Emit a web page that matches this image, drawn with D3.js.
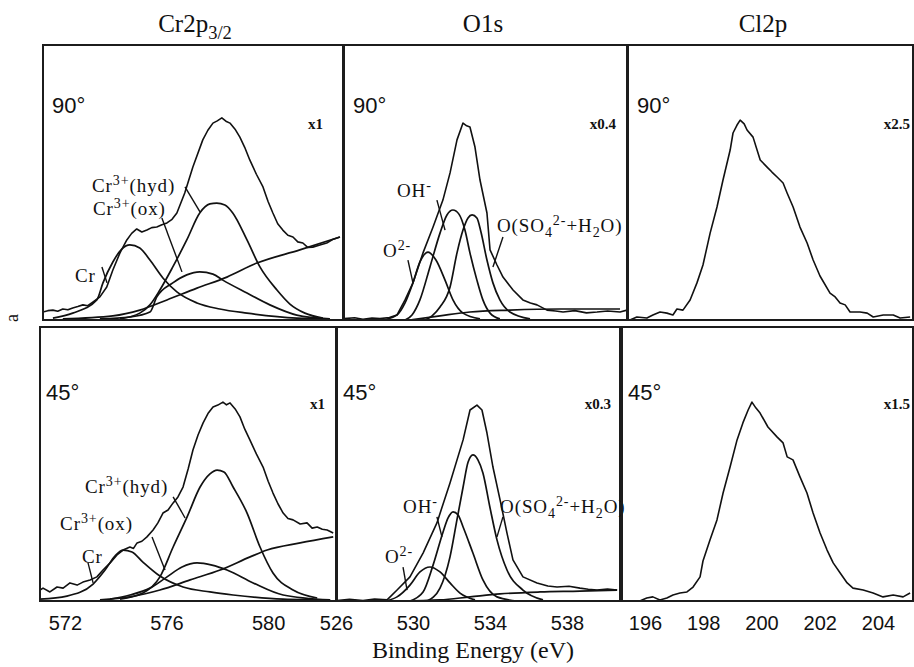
<!DOCTYPE html>
<html>
<head>
<meta charset="utf-8">
<script src="https://cdn.jsdelivr.net/npm/d3@7"></script>
<style>
  body { margin: 0; background: #fff; }
  svg { display: block; }
  .frame { fill: none; stroke: #1c1c1c; stroke-width: 2; }
  .trace { fill: none; stroke: #111; stroke-width: 1.6; stroke-linejoin: round; }
  .fit { fill: none; stroke: #111; stroke-width: 1.7; }
  .lead { stroke: #111; stroke-width: 1.4; fill: none; }
  .serif { font-family: "Liberation Serif", "DejaVu Serif", serif; fill: #111; }
  .sans { font-family: "Liberation Sans", Arial, sans-serif; fill: #111; }
</style>
</head>
<body>
<svg id="chart" width="914" height="667"></svg>
<script>

// ----- Data (binding energy eV, intensity a.u. 0-100) ---------------------

var CR_TICKS = [572, 576, 580];
var O_TICKS = [526, 530, 534, 538];
var CL_TICKS = [196, 198, 200, 202, 204];

var ANGLES = ['90°', '45°'];
var FACTORS_90 = ['x1', 'x0.4', 'x2.5'];
var FACTORS_45 = ['x1', 'x0.3', 'x1.5'];

// Cr2p3/2, 90 deg
var CR90_ENV = [[571.13,2.9],[571.33,3.4],[571.53,3.6],[571.72,3.2],[571.92,4.0],[572.12,3.7],[572.31,4.4],
  [572.51,4.9],[572.71,5.5],[572.90,5.2],[573.10,6.5],[573.38,8.4],[573.65,12.0],[573.89,18.2],[574.17,24.4],
  [574.44,29.1],[574.63,31.5],[574.83,33.1],[575.03,32.0],[575.23,32.7],[575.42,33.6],[575.62,33.8],
  [575.82,34.6],[576.02,35.3],[576.22,36.6],[576.41,38.9],[576.72,46.2],[577.04,55.6],[577.43,65.5],
  [577.63,69.0],[577.83,71.6],[578.00,72.4],[578.18,73.5],[578.34,72.3],[578.50,71.6],[578.70,69.4],
  [578.89,66.5],[579.08,62.8],[579.28,58.2],[579.54,53.0],[579.80,48.4],[580.00,43.1],[580.19,38.9],
  [580.38,35.0],[580.58,32.7],[580.78,30.8],[580.98,30.2],[581.17,28.4],[581.37,28.0],[581.56,26.4],
  [581.76,26.5],[582.04,27.3],[582.31,28.0],[582.57,29.4],[582.83,30.2]];
var CR90_METAL = [[571.53,0.7],[572.31,2.5],[573.26,7.3],[573.50,13.5],[573.89,21.1],[574.24,25.8],[574.56,27.3],
  [574.95,26.2],[575.35,21.8],[575.86,15.3],[576.41,10.2],[577.20,6.2],[578.10,4.0],[579.17,2.5],[581.13,0.7],[582.43,0.4]];
var CR90_OX = [[573.38,0.4],[574.56,1.1],[575.35,2.9],[575.62,8.4],[576.25,13.5],[576.80,16.4],[577.31,17.5],
  [577.83,16.7],[578.22,14.5],[579.17,9.8],[580.07,5.5],[581.13,1.8],[582.43,0.4]];
var CR90_HYD = [[574.17,0.4],[574.95,2.5],[575.35,5.5],[575.74,10.9],[576.25,19.3],[576.80,29.1],[577.31,38.9],
  [577.71,42.2],[577.98,42.5],[578.30,41.8],[578.61,38.9],[579.17,29.1],[579.68,19.3],[580.35,10.9],[580.86,5.8],
  [581.45,2.5],[582.16,0.7]];
var CR90_BG = [[571.92,0.4],[573.89,1.5],[574.95,3.6],[576.02,7.3],[577.20,11.6],[578.38,15.6],[579.56,20.7],
  [581.25,25.5],[582.83,30.2]];

// Cr2p3/2, 45 deg
var CR45_ENV = [[571.02,4.0],[571.14,4.7],[571.41,3.3],[571.69,5.1],[571.93,4.7],[572.20,6.6],[572.48,5.8],
  [572.71,6.9],[572.99,7.7],[573.26,8.8],[573.50,11.3],[573.78,13.9],[574.05,16.8],[574.29,18.6],[574.56,19.7],
  [574.70,19.2],[574.84,21.2],[575.03,21.8],[575.23,23.4],[575.47,25.9],[575.66,28.5],[575.86,32.1],
  [576.06,33.2],[576.26,35.8],[576.45,38.0],[576.65,41.6],[576.85,48.2],[577.04,55.1],[577.24,60.6],
  [577.44,65.0],[577.63,68.4],[577.83,70.8],[578.02,71.5],[578.22,72.6],[578.36,71.6],[578.50,72.3],
  [578.70,70.1],[578.89,67.2],[579.08,62.7],[579.28,58.8],[579.54,53.6],[579.80,48.9],[580.00,43.7],
  [580.19,39.4],[580.39,35.4],[580.59,32.1],[580.78,30.1],[580.98,29.6],[581.26,28.1],[581.53,28.5],
  [581.73,26.6],[581.93,27.0],[582.13,26.2],[582.32,25.9],[582.56,24.8]];
var CR45_METAL = [[571.02,0.7],[572.08,1.8],[573.11,6.2],[573.58,11.3],[573.97,16.4],[574.29,18.6],[574.64,17.9],
  [575.07,14.2],[575.74,9.1],[576.65,5.1],[577.71,3.3],[578.62,2.2],[580.59,0.7],[582.44,0.4]];
var CR45_OX = [[573.78,0.7],[574.56,2.2],[575.35,4.7],[576.02,8.8],[576.61,12.4],[577.20,13.9],[577.79,13.1],
  [578.38,11.3],[579.41,6.6],[580.59,2.2],[582.44,0.4]];
var CR45_HYD = [[574.17,0.7],[575.07,2.9],[575.74,8.8],[576.26,19.7],[576.81,30.7],[577.32,41.6],[577.71,46.4],
  [577.99,47.8],[578.26,47.1],[578.62,41.6],[579.17,32.1],[579.68,19.7],[580.19,10.2],[580.98,4.0],[581.93,1.1]];
var CR45_BG = [[573.38,0.4],[574.56,1.5],[575.74,4.0],[576.93,7.7],[578.11,11.3],[579.29,16.1],[579.96,18.6],
  [581.26,21.2],[582.56,23.4]];

// O1s, 90 deg
var O90_ENV = [[526.05,0.5],[526.60,0.8],[527.03,0.3],[527.50,0.7],[527.91,0.5],[528.40,0.9],[528.79,1.8],
  [529.21,7.3],[529.62,13.5],[530.14,24.4],[530.66,33.8],[531.17,43.6],[531.54,53.5],[531.90,65.5],
  [532.21,71.6],[532.40,70.6],[532.57,70.2],[532.83,62.9],[533.09,50.9],[533.45,38.9],[533.61,25.5],
  [533.97,20.0],[534.28,15.6],[534.80,10.9],[535.31,7.3],[535.70,6.2],[536.04,5.5],[536.56,3.6],[537.00,3.3],
  [537.39,2.9],[538.00,3.4],[538.60,2.6],[539.15,2.9],[539.70,3.3],[540.34,2.9],[540.70,3.6]];
var O90_O2 = [[528.07,0],[528.79,1.8],[529.21,6.2],[529.62,13.5],[529.98,21.1],[530.40,24.7],[530.81,21.8],
  [531.28,14.5],[531.69,7.3],[532.21,2.5],[533.09,0.4]];
var O90_OH = [[529.21,0],[529.57,1.8],[529.98,7.3],[530.50,19.3],[531.02,31.6],[531.38,38.2],[531.69,40.0],
  [532.00,38.5],[532.31,32.7],[532.57,24.4],[532.93,14.5],[533.24,7.3],[533.61,2.5],[534.12,0.4]];
var O90_SO4 = [[530.24,0],[530.61,1.5],[531.02,4.7],[531.54,12.0],[531.90,24.4],[532.21,32.7],[532.47,37.1],
  [532.68,38.2],[532.93,37.1],[533.14,32.0],[533.45,21.8],[533.76,13.5],[534.12,7.3],[534.64,2.9],[535.68,0.4]];
var O90_BG = [[529.47,0],[531.02,1.5],[532.57,2.9],[534.64,3.6],[537.23,4.0],[540.34,4.0]];

// O1s, 45 deg
var O45_ENV = [[526.05,0.2],[526.70,0.6],[527.40,0.2],[528.00,0.7],[528.65,0.4],[529.17,4.0],[529.84,8.8],
  [530.52,17.5],[531.24,28.5],[531.92,43.1],[532.60,58.8],[532.96,69.7],[533.32,71.5],[533.58,69.7],
  [533.84,61.3],[534.15,48.9],[534.52,36.9],[534.88,24.8],[535.19,15.0],[535.71,8.8],[536.44,6.6],
  [537.00,5.5],[537.48,5.1],[538.10,5.4],[538.67,4.7],[539.10,4.3],[539.56,4.0],[540.10,4.4],[540.60,4.0]];
var O45_O2 = [[528.54,0],[529.17,1.5],[529.84,5.8],[530.36,10.6],[530.88,12.4],[531.40,10.6],[531.92,6.6],
  [532.44,2.9],[533.22,0.4]];
var O45_OH = [[529.84,0],[530.52,3.3],[531.04,13.1],[531.56,25.2],[531.82,30.3],[532.08,32.5],[532.34,31.4],
  [532.60,27.0],[533.11,17.5],[533.63,7.7],[534.36,1.5],[535.40,0]];
var O45_SO4 = [[530.73,0],[531.40,4.7],[531.92,16.1],[532.28,29.6],[532.60,41.6],[532.86,50.7],[533.11,53.3],
  [533.37,51.5],[533.63,46.7],[533.99,34.3],[534.36,22.3],[534.88,11.3],[535.71,4.0],[536.75,0.4]];
var O45_BG = [[529.32,0],[531.40,0.4],[532.96,1.5],[534.52,2.6],[536.60,3.3],[538.67,3.6],[540.60,4.0]];

// Cl2p, 90 and 45 deg
var CL90_ENV = [[195.31,0],[195.55,1.1],[195.90,0.7],[196.11,1.8],[196.36,2.9],[196.60,2.5],[196.81,1.8],
  [196.95,4.0],[197.16,3.6],[197.41,7.3],[197.65,13.5],[197.86,20.0],[198.11,31.6],[198.35,41.1],[198.56,50.9],
  [198.81,61.8],[198.91,68.0],[199.05,70.9],[199.16,72.7],[199.30,71.3],[199.40,69.1],[199.61,66.5],
  [199.86,58.2],[200.10,55.6],[200.27,53.8],[200.45,52.0],[200.66,49.8],[200.80,46.2],[201.01,41.1],
  [201.25,33.8],[201.50,28.0],[201.71,21.8],[201.95,16.0],[202.30,9.8],[202.48,8.4],[202.65,6.2],[202.83,5.5],
  [203.00,2.9],[203.35,2.9],[203.60,2.5],[203.81,1.1],[204.16,1.8],[204.51,1.8],[204.75,0.7],[205.10,1.1]];
var CL45_ENV = [[195.24,0],[195.48,0],[195.82,0],[196.06,1.1],[196.27,1.5],[196.51,0.4],[196.75,1.1],
  [196.96,2.2],[197.20,2.9],[197.44,3.3],[197.65,5.1],[197.89,8.8],[197.99,14.6],[198.23,22.3],[198.47,29.6],
  [198.68,39.4],[198.92,48.9],[199.16,58.8],[199.36,65.0],[199.54,69.7],[199.67,72.6],[199.81,70.4],
  [199.95,68.6],[200.22,63.5],[200.53,59.9],[200.74,57.7],[200.88,52.6],[201.08,51.5],[201.32,45.3],
  [201.56,39.4],[201.77,32.1],[202.01,24.8],[202.25,18.6],[202.46,13.9],[202.70,10.2],[202.94,6.6],
  [203.14,4.7],[203.49,4.0],[203.83,2.9],[204.17,1.5],[204.52,2.2],[204.86,1.5],[205.10,2.9]];

// Peak labels: text parts [string, 0 normal | 1 sup | -1 sub], anchor and leader in data units
var CR90_NOTES = [
  { parts: [['Cr',0],['3+',1],['(hyd)',0]], at: [573.07,46.5], lead: [[576.73,48.4],[577.32,39.3]] },
  { parts: [['Cr',0],['3+',1],['(ox)',0]], at: [573.11,38.2], lead: [[575.82,37.1],[576.61,17.5]] },
  { parts: [['Cr',0]], at: [572.40,13.8], lead: [[573.46,19.3],[573.66,13.5]] }
];
var CR45_NOTES = [
  { parts: [['Cr',0],['3+',1],['(hyd)',0]], at: [572.79,39.4], lead: [[576.26,38.0],[576.73,30.3]] },
  { parts: [['Cr',0],['3+',1],['(ox)',0]], at: [571.81,25.9], lead: [[575.43,23.4],[575.94,11.3]] },
  { parts: [['Cr',0]], at: [572.67,13.9], lead: [[572.91,13.9],[573.11,6.6]] }
];
var O90_NOTES = [
  { parts: [['OH',0],['-',1]], at: [528.79,44.7], lead: [[530.86,43.6],[531.28,32.7]] },
  { parts: [['O',0],['2-',1]], at: [528.07,22.9], lead: [[529.36,21.8],[529.62,13.5]] },
  { parts: [['O(SO',0],['4',-1],['2-',1],['+H',0],['2',-1],['O)',0]], at: [533.97,32.0], lead: [[534.28,30.2],[533.76,19.3]] }
];
var O45_NOTES = [
  { parts: [['OH',0],['-',1]], at: [529.48,32.1], lead: [[531.24,30.7],[531.50,23.4]] },
  { parts: [['O',0],['2-',1]], at: [528.54,13.9], lead: [[529.48,12.4],[529.69,4.0]] },
  { parts: [['O(SO',0],['4',-1],['2-',1],['+H',0],['2',-1],['O)',0]], at: [534.52,32.1], lead: [[534.67,30.7],[534.36,23.4]] }
];

// ----- Layout --------------------------------------------------------------

var svg = d3.select('#chart');
var ROWS = [[45, 320], [327, 601]];

// fx: gap between the multiplier text and the panel's right edge
var PANELS = [
  { row: 0, x: [43, 343], dom: [571.14, 582.95], env: CR90_ENV, fits: [CR90_METAL, CR90_OX, CR90_HYD, CR90_BG], notes: CR90_NOTES, factor: FACTORS_90[0], fx: 20 },
  { row: 0, x: [344, 627], dom: [526.05, 540.7], env: O90_ENV, fits: [O90_O2, O90_OH, O90_SO4, O90_BG], notes: O90_NOTES, factor: FACTORS_90[1], fx: 11 },
  { row: 0, x: [628, 913], dom: [195.24, 205.2], env: CL90_ENV, fits: [], notes: [], factor: FACTORS_90[2], fx: 3 },
  { row: 1, x: [40, 336], dom: [571.02, 582.67], env: CR45_ENV, fits: [CR45_METAL, CR45_OX, CR45_HYD, CR45_BG], notes: CR45_NOTES, factor: FACTORS_45[0], fx: 11, ticks: CR_TICKS },
  { row: 1, x: [337, 620], dom: [526.05, 540.75], env: O45_ENV, fits: [O45_O2, O45_OH, O45_SO4, O45_BG], notes: O45_NOTES, factor: FACTORS_45[1], fx: 9, ticks: O_TICKS },
  { row: 1, x: [622, 913], dom: [195.21, 205.2], env: CL45_ENV, fits: [], notes: [], factor: FACTORS_45[2], fx: 3, ticks: CL_TICKS }
];

function richText(sel, parts, size) {
  var cur = 0;
  parts.forEach(function(p) {
    var target = p[1] === 1 ? -size * 0.36 : (p[1] === -1 ? size * 0.26 : 0);
    sel.append('tspan')
        .attr('dy', target - cur)
        .attr('font-size', p[1] ? size * 0.74 : size)
        .text(p[0]);
    cur = target;
  });
}

var defs = svg.append('defs');

PANELS.forEach(function(p, i) {
  var rowY = ROWS[p.row];
  var x = d3.scaleLinear().domain(p.dom).range(p.x);
  var y = d3.scaleLinear().domain([0, 100]).range([rowY[1], rowY[0]]);

  defs.append('clipPath').attr('id', 'clip' + i)
    .append('rect')
      .attr('x', p.x[0]).attr('y', rowY[0])
      .attr('width', p.x[1] - p.x[0]).attr('height', rowY[1] - rowY[0]);

  var g = svg.append('g');
  var plot = g.append('g').attr('clip-path', 'url(#clip' + i + ')');

  var smooth = d3.line().x(function(d) { return x(d[0]); }).y(function(d) { return y(d[1]); })
      .curve(d3.curveMonotoneX);
  var raw = d3.line().x(function(d) { return x(d[0]); }).y(function(d) { return y(d[1]); });

  plot.selectAll('.fit')
      .data(p.fits)
    .enter().append('path')
      .attr('class', 'fit')
      .attr('d', smooth);

  plot.append('path')
      .datum(p.env)
      .attr('class', 'trace')
      .attr('d', raw);

  // frame
  g.append('rect')
      .attr('class', 'frame')
      .attr('x', p.x[0]).attr('y', rowY[0])
      .attr('width', p.x[1] - p.x[0]).attr('height', rowY[1] - rowY[0]);

  // angle and multiplier
  g.append('text')
      .attr('class', 'sans')
      .attr('x', p.x[0] + (p.row === 0 ? 9 : 6))
      .attr('y', rowY[0] + (p.row === 0 ? 68 : 73))
      .attr('font-size', 22)
      .text(ANGLES[p.row]);

  g.append('text')
      .attr('class', 'serif')
      .attr('x', p.x[1] - p.fx)
      .attr('y', rowY[0] + (p.row === 0 ? 84 : 82))
      .attr('text-anchor', 'end')
      .attr('font-size', 15)
      .attr('font-weight', 'bold')
      .text(p.factor);

  // peak labels and leader lines
  p.notes.forEach(function(n) {
    var t = g.append('text')
        .attr('class', 'serif')
        .attr('x', x(n.at[0])).attr('y', y(n.at[1]))
        .attr('letter-spacing', 0.9);
    richText(t, n.parts, 19);
    g.append('line')
        .attr('class', 'lead')
        .attr('x1', x(n.lead[0][0])).attr('y1', y(n.lead[0][1]))
        .attr('x2', x(n.lead[1][0])).attr('y2', y(n.lead[1][1]));
  });

  if (p.ticks) {
    var ax = g.append('g')
        .attr('transform', 'translate(0,' + rowY[1] + ')')
        .call(d3.axisBottom(x).tickValues(p.ticks).tickSize(0).tickPadding(15));
    ax.select('.domain').remove();
    ax.selectAll('.tick text')
        .attr('font-family', '"Liberation Sans", Arial, sans-serif')
        .attr('font-size', 20)
        .attr('fill', '#111');
  }
});

// column titles
var titles = [
  { parts: [['Cr2p',0],['3/2',-1]], x: 195 },
  { parts: [['O1s',0]], x: 483 },
  { parts: [['Cl2p',0]], x: 763 }
];
titles.forEach(function(t) {
  var el = svg.append('text')
      .attr('class', 'serif')
      .attr('x', t.x).attr('y', 32)
      .attr('text-anchor', 'middle');
  richText(el, t.parts, 25);
});

svg.append('text')
    .attr('class', 'serif')
    .attr('x', 473).attr('y', 658)
    .attr('text-anchor', 'middle')
    .attr('font-size', 24)
    .text('Binding Energy (eV)');

// clipped axis letter at the left margin
svg.append('text')
    .attr('class', 'serif')
    .attr('transform', 'translate(18,318) rotate(-90)')
    .attr('text-anchor', 'middle')
    .attr('font-size', 18)
    .text('a');

</script>
</body>
</html>
